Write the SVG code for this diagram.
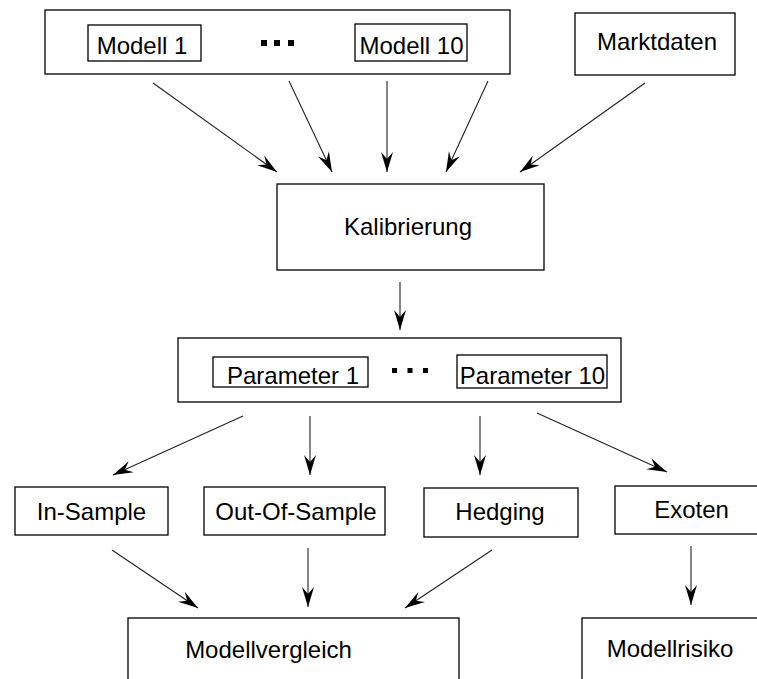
<svg xmlns="http://www.w3.org/2000/svg" width="757" height="679" viewBox="0 0 757 679">
  <style>
    .box { fill: #fff; stroke: #000; stroke-width: 1.3; }
    .lbl { font-family: "Liberation Sans", Arial, sans-serif; font-size: 24px; fill: #000; text-anchor: middle; }
    .dot { fill: #000; }
    .edge { stroke: #222; stroke-width: 1.1; fill: none; marker-end: url(#head); }
  </style>
  <defs>
    <marker id="head" markerUnits="userSpaceOnUse" markerWidth="26" markerHeight="16" refX="0" refY="0" viewBox="-22 -8 24 16" orient="auto">
      <path d="M0,0 L-20,-6 L-13,0 L-20,6 Z" fill="#000"/>
    </marker>
  </defs>

  <rect width="757" height="679" fill="#fff"/>

  <!-- model group -->
  <g id="modelle">
    <rect class="box" x="45" y="10" width="465" height="64"/>
    <g id="modell1">
      <rect class="box" x="88" y="25" width="113" height="36"/>
      <text class="lbl" x="142" y="54">Modell 1</text>
    </g>
    <rect class="dot" x="261" y="40" width="6" height="6"/>
    <rect class="dot" x="274" y="40" width="6" height="6"/>
    <rect class="dot" x="288" y="40" width="6" height="6"/>
    <g id="modell10">
      <rect class="box" x="355" y="24" width="112" height="37"/>
      <text class="lbl" x="411.5" y="54">Modell 10</text>
    </g>
  </g>

  <g id="marktdaten">
    <rect class="box" x="575" y="13" width="160" height="62"/>
    <text class="lbl" x="657" y="50">Marktdaten</text>
  </g>

  <g id="kalibrierung">
    <rect class="box" x="277" y="184" width="267" height="86"/>
    <text class="lbl" x="408" y="235">Kalibrierung</text>
  </g>

  <!-- parameter group -->
  <g id="parameter">
    <rect class="box" x="178" y="338" width="443" height="64"/>
    <g id="parameter1">
      <rect class="box" x="213" y="357" width="155" height="30"/>
      <text class="lbl" x="293" y="384">Parameter 1</text>
    </g>
    <rect class="dot" x="392" y="368" width="5" height="5"/>
    <rect class="dot" x="407.5" y="368" width="5" height="5"/>
    <rect class="dot" x="423" y="368" width="5" height="5"/>
    <g id="parameter10">
      <rect class="box" x="457" y="355" width="150" height="33"/>
      <text class="lbl" x="532.5" y="384">Parameter 10</text>
    </g>
  </g>

  <g id="insample">
    <rect class="box" x="15" y="487" width="153" height="48"/>
    <text class="lbl" x="91.5" y="520">In-Sample</text>
  </g>
  <g id="outofsample">
    <rect class="box" x="204" y="487" width="181" height="48"/>
    <text class="lbl" x="296" y="520">Out-Of-Sample</text>
  </g>
  <g id="hedging">
    <rect class="box" x="424" y="488" width="154" height="49"/>
    <text class="lbl" x="500" y="520">Hedging</text>
  </g>
  <g id="exoten">
    <rect class="box" x="615" y="486" width="150" height="48"/>
    <text class="lbl" x="691.5" y="518">Exoten</text>
  </g>

  <g id="modellvergleich">
    <rect class="box" x="128" y="618" width="331" height="80"/>
    <text class="lbl" x="268.5" y="658">Modellvergleich</text>
  </g>
  <g id="modellrisiko">
    <rect class="box" x="582" y="618" width="200" height="80"/>
    <text class="lbl" x="670" y="657">Modellrisiko</text>
  </g>

  <!-- connectors -->
  <g id="connectors">
    <line class="edge" x1="153" y1="83" x2="277" y2="172"/>
    <line class="edge" x1="289" y1="81" x2="332" y2="172"/>
    <line class="edge" x1="387" y1="81" x2="387" y2="172"/>
    <line class="edge" x1="488" y1="81" x2="446" y2="172"/>
    <line class="edge" x1="645" y1="83" x2="520" y2="172"/>
    <line class="edge" x1="400" y1="282" x2="400" y2="330"/>
    <line class="edge" x1="243" y1="416" x2="113" y2="475"/>
    <line class="edge" x1="310" y1="416" x2="310" y2="475"/>
    <line class="edge" x1="480" y1="416" x2="480" y2="475"/>
    <line class="edge" x1="537" y1="413" x2="667" y2="472"/>
    <line class="edge" x1="112" y1="550" x2="198" y2="608"/>
    <line class="edge" x1="308" y1="548" x2="308" y2="607"/>
    <line class="edge" x1="492" y1="550" x2="405" y2="608"/>
    <line class="edge" x1="691" y1="546" x2="691" y2="605"/>
  </g>
</svg>
